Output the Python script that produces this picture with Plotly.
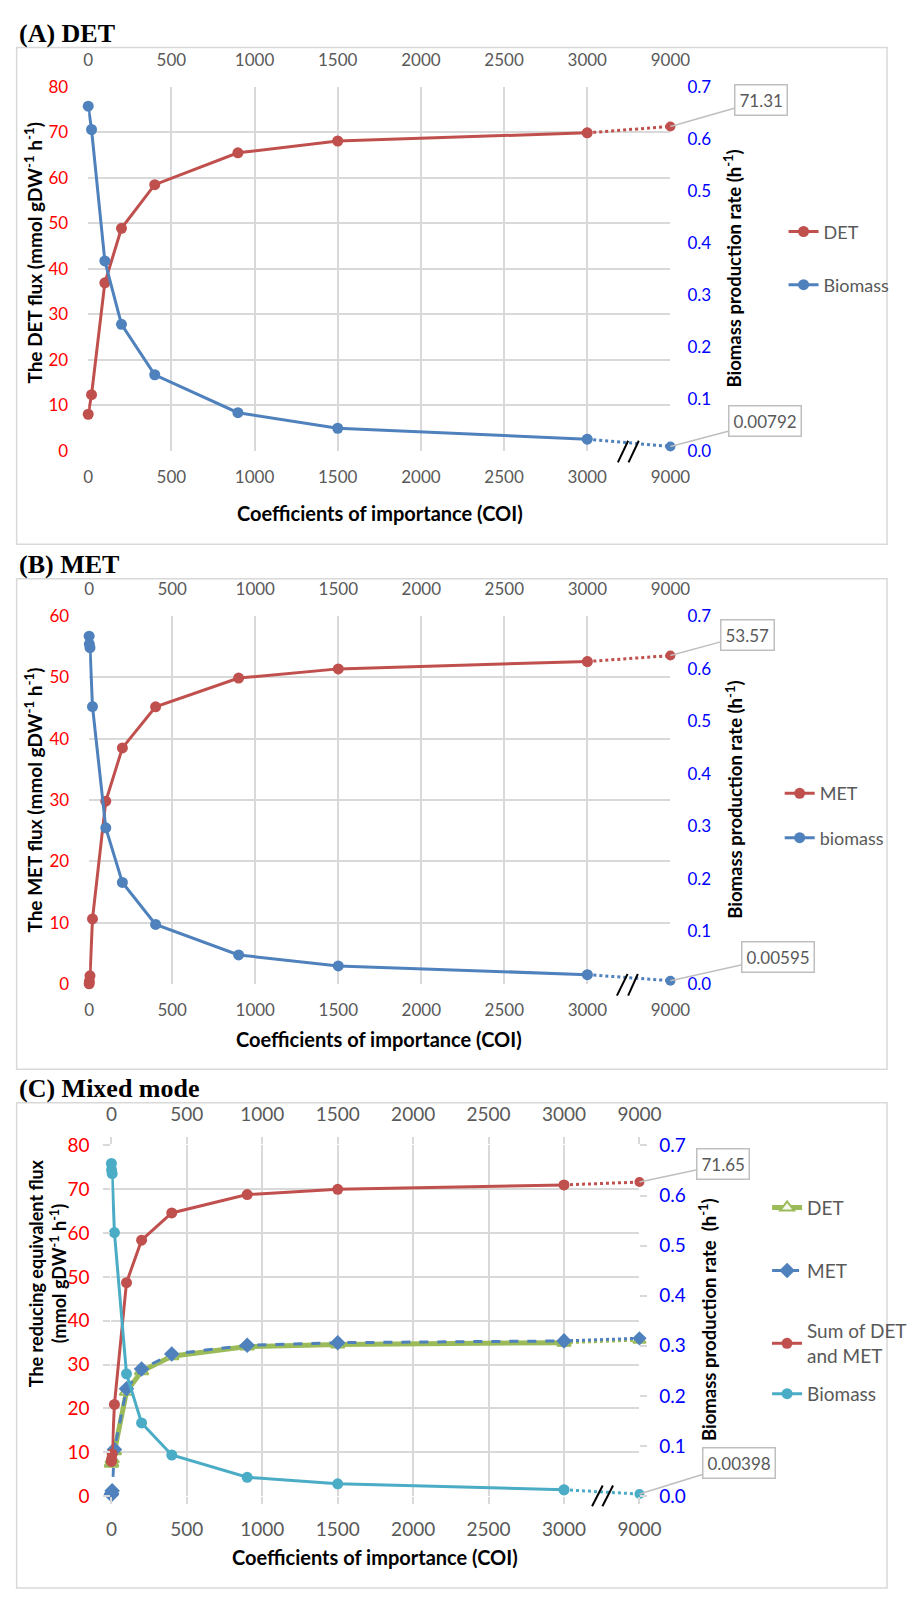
import plotly.graph_objects as go

W, H = 912, 1600

# ---------------- data ----------------
coi_ticks = [0, 500, 1000, 1500, 2000, 2500, 3000, 9000]

coi_a = [0, 20, 100, 200, 400, 900, 1500, 3000, 9000]
det_flux_a = [8.0, 12.3, 36.9, 48.9, 58.5, 65.5, 68.1, 69.9, 71.31]
biomass_a = [0.663, 0.618, 0.365, 0.243, 0.146, 0.073, 0.043, 0.022, 0.00792]

coi_b = [0, 1, 5, 20, 100, 200, 400, 900, 1500, 3000, 9000]
met_flux_b = [0.0, 0.4, 1.3, 10.6, 29.8, 38.5, 45.2, 49.9, 51.4, 52.6, 53.57]
biomass_b = [0.662, 0.647, 0.640, 0.528, 0.297, 0.193, 0.113, 0.055, 0.034, 0.0175, 0.00595]

coi_c = [0, 1, 5, 20, 100, 200, 400, 900, 1500, 3000, 9000]
det_flux_c = [7.4, 7.6, 8.4, 10.2, 23.8, 28.5, 31.9, 34.1, 34.6, 35.0, 35.6]
met_flux_c = [0.3, 0.6, 1.2, 10.6, 24.5, 29.0, 32.4, 34.4, 35.0, 35.4, 36.0]
sum_flux_c = [7.9, 8.4, 9.6, 20.9, 48.7, 58.4, 64.6, 68.8, 70.0, 71.0, 71.65]
biomass_c = [0.664, 0.651, 0.644, 0.526, 0.244, 0.146, 0.082, 0.0375, 0.0244, 0.0126, 0.00398]

# ---------------- style ----------------
RED = "#c0504d"
BLUE = "#4f81bd"
GREEN = "#9bbb59"
TEAL = "#4bacc6"
GRID = "#d9d9d9"
TXT = "#595959"
FONT = "Lato"
SERIF = "Liberation Serif"


def brk(values):
    """Broken axis: everything up to 3000 is linear, 9000 sits one step after 3000."""
    return [v if v <= 3000 else 3500 for v in values]


def P(x, y):
    return x / W, 1 - y / H


tickpos = brk(coi_ticks)
ticktext = [str(t) for t in coi_ticks]

fig = go.Figure()


def add_series(xs, ys, xa, ya, color, name, legend, width=3, dash="solid",
               symbol="circle", msize=11, mfill=None, mline=0):
    pos = brk(xs)
    marker = dict(symbol=symbol, size=msize, color=mfill or color,
                  line=dict(color=color, width=mline))
    fig.add_trace(go.Scatter(
        x=pos[:-1], y=ys[:-1], mode="lines+markers", name=name, legend=legend,
        line=dict(color=color, width=width, dash=dash), marker=marker,
        xaxis=xa, yaxis=ya, cliponaxis=False, hoverinfo="x+y"))
    fig.add_trace(go.Scatter(
        x=pos[-2:], y=ys[-2:], mode="lines+markers", showlegend=False,
        line=dict(color=color, width=3, dash="dot"),
        marker=dict(symbol=symbol, size=msize - 1, color=mfill or color,
                    line=dict(color=color, width=mline)),
        xaxis=xa, yaxis=ya, cliponaxis=False, hoverinfo="x+y"))


# Panel A
add_series(coi_a, det_flux_a, "x", "y", RED, "DET", "legend")
add_series(coi_a, biomass_a, "x2", "y2", BLUE, "Biomass", "legend2")
# Panel B
add_series(coi_b, met_flux_b, "x3", "y3", RED, "MET", "legend3")
add_series(coi_b, biomass_b, "x4", "y4", BLUE, "biomass", "legend4")
# Panel C
add_series(coi_c, det_flux_c, "x5", "y5", GREEN, "DET", "legend5", width=5,
           symbol="triangle-up", msize=12, mfill="#f4f8ec", mline=2)
add_series(coi_c, met_flux_c, "x5", "y5", BLUE, "MET", "legend6", width=3,
           dash="dash", symbol="diamond", msize=12)
add_series(coi_c, sum_flux_c, "x5", "y5", RED, "Sum of DET<br>and MET", "legend7")
add_series(coi_c, biomass_c, "x6", "y6", TEAL, "Biomass", "legend8")

# ---------------- axes ----------------
panels = {
    "A": ((85, 76, 687, 445), 80, ("xaxis", "xaxis2"), ("yaxis", "yaxis2"), False),
    "B": ((86, 613, 687, 986), 60, ("xaxis3", "xaxis4"), ("yaxis3", "yaxis4"), False),
    "C": ((109, 1150, 655, 1505.7), 80, ("xaxis5", "xaxis6"), ("yaxis5", "yaxis6"), True),
}

layout_axes = {}
for key, (box, ymax, (xb, xt), (yl, yr), outside) in panels.items():
    l, t, r, b = box
    xdom = [l / W, r / W]
    ydom = [1 - b / H, 1 - t / H]
    xb_id = "x" + xb[5:]
    xt_id = "x" + xt[5:]
    yl_id = "y" + yl[5:]
    yr_id = "y" + yr[5:]
    tk = dict(ticks="outside", ticklen=7, tickwidth=1.5, tickcolor=GRID) if outside else dict(ticks="")
    so_x = 9 if outside else 14
    so_l = 10 if outside else 19
    so_r = 8 if outside else 16
    fsz = 19 if outside else 17
    layout_axes[xb] = dict(domain=xdom, anchor=yl_id, range=[0, 3500], tickvals=tickpos,
                           ticktext=ticktext, showgrid=True, gridcolor=GRID, gridwidth=1.5,
                           zeroline=False, showline=False,
                           tickfont=dict(family=FONT, size=fsz, color=TXT),
                           ticklabelstandoff=so_x, **tk)
    layout_axes[xt] = dict(domain=xdom, anchor=yr_id, overlaying=xb_id, side="top",
                           range=[0, 3500], tickvals=tickpos, ticktext=ticktext,
                           showgrid=False, zeroline=False, showline=False,
                           tickfont=dict(family=FONT, size=fsz, color=TXT),
                           ticklabelstandoff=so_x + (0 if outside else 3), **tk)
    layout_axes[yl] = dict(domain=ydom, anchor=xb_id, range=[0, ymax], dtick=10,
                           showgrid=True, gridcolor=GRID, gridwidth=1.5, zeroline=False,
                           showline=False, tickfont=dict(family=FONT, size=fsz, color="#ff0000"),
                           ticklabelstandoff=so_l, **tk)
    layout_axes[yr] = dict(domain=ydom, anchor=xt_id, overlaying=yl_id, side="right",
                           range=[0, 0.7], dtick=0.1, tickformat=".1f",
                           showgrid=False, zeroline=False, showline=False,
                           tickfont=dict(family=FONT, size=fsz, color="#0000ff"),
                           ticklabelstandoff=so_r, **tk)

# ---------------- legends ----------------
legend_spots = {
    "legend": (833, 223), "legend2": (833, 277),
    "legend3": (829, 793), "legend4": (829, 838),
    "legend5": (816, 1213), "legend6": (816, 1277),
    "legend7": (816, 1351), "legend8": (816, 1402),
}
legends = {}
for name, (tx, ty) in legend_spots.items():
    x, y = P(tx - 29, ty)
    big = name in ("legend5", "legend6", "legend7", "legend8")
    legends[name] = dict(x=x, y=y, xanchor="left", yanchor="middle",
                         bgcolor="rgba(0,0,0,0)", borderwidth=0,
                         font=dict(family=FONT, size=19 if big else 18, color=TXT))

# ---------------- annotations ----------------
ann = []
for text, ty in [("(A) DET", 22), ("(B) MET", 561), ("(C) Mixed mode", 1092)]:
    x, y = P(11, ty)
    ann.append(dict(text="<b>%s</b>" % text, x=x, y=y, xref="paper", yref="paper",
                    xanchor="left", yanchor="middle", showarrow=False,
                    font=dict(family=SERIF, size=26, color="black")))

unit = "(mmol gDW<sup>-1</sup> h<sup>-1</sup>)"
titles = [
    ("The DET flux " + unit, 28, 244, -90, 19),
    ("Biomass production rate (h<sup>-1</sup>)", 751, 260, -90, 18.5),
    ("Coefficients of importance (COI)", 387, 508, 0, 20),
    ("The MET flux " + unit, 28, 800, -90, 19),
    ("Biomass production rate (h<sup>-1</sup>)", 753, 799, -90, 18.5),
    ("Coefficients of importance (COI)", 386, 1042, 0, 20),
    ("The reducing equivalent flux<br>" + unit, 43, 1280, -90, 18),
    ("Biomass production rate  (h<sup>-1</sup>)", 726, 1327, -90, 18.5),
    ("Coefficients of importance (COI)", 382, 1568, 0, 20),
]
for text, tx, ty, ang, fs in titles:
    x, y = P(tx, ty)
    ann.append(dict(text="<b>%s</b>" % text, x=x, y=y, xref="paper", yref="paper",
                    xanchor="center", yanchor="middle", showarrow=False, textangle=ang,
                    font=dict(family=FONT, size=fs, color="black")))

# data callouts on the 9000 points
callouts = [
    ("x", "y", det_flux_a[-1], "%.2f" % det_flux_a[-1], 91, -26),
    ("x2", "y2", biomass_a[-1], "%.5f" % biomass_a[-1], 95, -25),
    ("x3", "y3", met_flux_b[-1], "%.2f" % met_flux_b[-1], 77, -21),
    ("x4", "y4", biomass_b[-1], "%.5f" % biomass_b[-1], 108, -24),
    ("x5", "y5", sum_flux_c[-1], "%.2f" % sum_flux_c[-1], 84, -18),
    ("x6", "y6", biomass_c[-1], "%.5f" % biomass_c[-1], 100, -31),
]
for xr, yr, val, txt, ax, ay in callouts:
    ann.append(dict(x=brk([9000])[0], y=val, xref=xr, yref=yr, text=txt,
                    showarrow=True, arrowhead=0, arrowwidth=1.5, arrowcolor="#bfbfbf",
                    ax=ax, ay=ay, standoff=0, bgcolor="white", bordercolor="#bfbfbf",
                    borderwidth=1.5, borderpad=4,
                    font=dict(family=FONT, size=17, color=TXT)))

# ---------------- shapes: panel frames and axis-break marks ----------------
shapes = []
for (l, t, r, b) in [(11, 36, 911, 540), (11, 575, 911, 1072.7), (11, 1106.7, 911, 1599)]:
    x0, y1 = P(l, t)
    x1, y0 = P(r, b)
    shapes.append(dict(type="rect", xref="paper", yref="paper", x0=x0, x1=x1, y0=y0, y1=y1,
                       line=dict(color=GRID, width=1.5), fillcolor="rgba(0,0,0,0)", layer="below"))

breaks = [
    ((632.7, 457), (643.3, 435)), ((643.7, 457), (654.3, 435)),
    ((631.7, 998), (642.7, 976)), ((643.3, 998), (653.3, 976)),
    ((606, 1516), (617, 1495)), ((616.7, 1516), (627.7, 1495)),
]
for (a, b) in breaks:
    x0, y0 = P(*a)
    x1, y1 = P(*b)
    shapes.append(dict(type="line", xref="paper", yref="paper", x0=x0, y0=y0, x1=x1, y1=y1,
                       line=dict(color="black", width=2)))

fig.update_layout(
    width=W, height=H, margin=dict(l=0, r=0, t=0, b=0),
    paper_bgcolor="white", plot_bgcolor="white",
    annotations=ann, shapes=shapes, **layout_axes, **legends,
)

fig.write_html("out.html", config={"displayModeBar": False},
               post_script="document.body.style.margin='0';document.body.style.overflow='hidden';")
